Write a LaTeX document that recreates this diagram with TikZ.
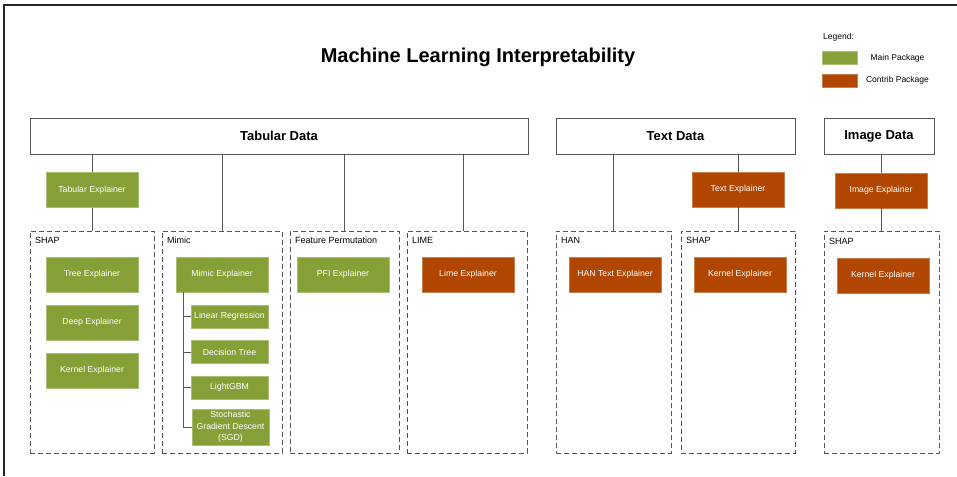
\documentclass[tikz,border=0pt]{standalone}
\usepackage{fontspec}
\setmainfont{Liberation Sans}
\definecolor{mgreen}{RGB}{134,160,56}
\definecolor{mred}{RGB}{176,70,0}
\definecolor{lgray}{RGB}{85,85,85}
\begin{document}
\begin{tikzpicture}[x=1pt,y=-1pt,
  hdr/.style={draw=lgray, line width=0.8pt, fill=white, inner sep=0pt, font=\fontsize{13}{15}\selectfont\bfseries},
  gbox/.style={fill=mgreen, draw=mgreen!70!white, line width=0.6pt, text=white, inner sep=0pt, align=center,
    minimum width=92pt, minimum height=35pt, font=\fontsize{8.7}{10.5}\selectfont},
  rbox/.style={gbox, fill=mred, draw=mred!70!white},
  sbox/.style={gbox, minimum width=77pt, minimum height=23pt},
  grp/.style={draw=lgray, line width=0.8pt, dash pattern=on 5pt off 3pt, inner sep=0pt, minimum height=222pt},
  glabel/.style={anchor=base west, inner sep=0pt, font=\fontsize{9}{11}\selectfont},
  conn/.style={draw=lgray, line width=0.8pt}]
\useasboundingbox (0,0) rectangle (957,476);
% frame
\draw[line width=1.2pt, draw=black!85] (4,476) -- (4,5) -- (957,5);
% title
\node[anchor=base, inner sep=0pt, font=\fontsize{20}{24}\selectfont\bfseries] (title) at (478,63) {Machine Learning Interpretability};
% legend
\node[glabel, font=\fontsize{8.5}{10}\selectfont] (leg) at (823,40) {Legend:};
\node[fill=mgreen, draw=mgreen!70!white, minimum width=35pt, minimum height=13pt, inner sep=0pt] (lg) at (839.5,58) {};
\node[fill=mred, draw=mred!70!white, minimum width=35pt, minimum height=13pt, inner sep=0pt] (lr) at (839.5,80.5) {};
\node[inner sep=0pt, font=\fontsize{8.5}{10}\selectfont] (lgt) at (897.5,58) {Main Package};
\node[inner sep=0pt, font=\fontsize{8.5}{10}\selectfont] (lrt) at (897.5,80.5) {Contrib Package};
% headers
\node[hdr, minimum width=498pt, minimum height=36pt] (tab) at (279,136) {Tabular Data};
\node[hdr, minimum width=239pt, minimum height=36pt] (txt) at (675.5,136) {Text Data};
\node[hdr, minimum width=110pt, minimum height=36pt] (img) at (879,136) {Image Data};
% group boxes
\node[grp, minimum width=124pt] (g1) at (92,342) {};
\node[grp, minimum width=120pt] (g2) at (222,342) {};
\node[grp, minimum width=109pt] (g3) at (344.5,342) {};
\node[grp, minimum width=120pt] (g4) at (467,342) {};
\node[grp, minimum width=115pt] (g5) at (613.5,342) {};
\node[grp, minimum width=114pt] (g6) at (738,342) {};
\node[grp, minimum width=115pt] (g7) at (881.5,342) {};
\node[glabel] (l1) at (35,243) {SHAP};
\node[glabel] (l2) at (167,243) {Mimic};
\node[glabel] (l3) at (295,243) {Feature Permutation};
\node[glabel] (l4) at (412,243) {LIME};
\node[glabel] (l5) at (561,243) {HAN};
\node[glabel] (l6) at (686,243) {SHAP};
\node[glabel] (l7) at (829,244) {SHAP};
% explainers
\node[gbox] (tabexp) at (92,190) {Tabular Explainer};
\node[rbox] (textexp) at (738,189.5) {Text Explainer};
\node[rbox] (imgexp) at (881,190.5) {Image Explainer};
\node[gbox] (tree) at (92,274.5) {Tree Explainer};
\node[gbox] (deep) at (92,322.5) {Deep Explainer};
\node[gbox] (kern1) at (92,370.5) {Kernel Explainer};
\node[gbox] (mimexp) at (222,274.5) {Mimic Explainer};
\node[sbox] (lin) at (229.5,316.5) {Linear Regression};
\node[sbox] (dt) at (229.5,352) {Decision Tree};
\node[sbox] (lgbm) at (229.5,387.5) {LightGBM};
\node[sbox, minimum height=36pt, font=\fontsize{8.7}{11.5}\selectfont] (sgd) at (230.5,427) {Stochastic\\Gradient Descent\\(SGD)};
\node[gbox] (pfi) at (343,274.5) {PFI Explainer};
\node[rbox] (limeexp) at (468,274.5) {Lime Explainer};
\node[rbox] (hanexp) at (615,274.5) {HAN Text Explainer};
\node[rbox] (kern2) at (740,274.5) {Kernel Explainer};
\node[rbox] (kern3) at (883,275.5) {Kernel Explainer};
% connectors
\coordinate (limex) at (463,0);
\coordinate (mt) at (183,0);
\draw[conn] (tab.south -| tabexp) -- (tabexp.north);
\draw[conn] (tabexp.south) -- (g1.north -| tabexp);
\draw[conn] (tab.south -| g2) -- (g2.north);
\draw[conn] (tab.south -| g3) -- (g3.north);
\draw[conn] (tab.south -| limex) -- (g4.north -| limex);
\draw[conn] (txt.south -| g5) -- (g5.north);
\draw[conn] (txt.south -| textexp) -- (textexp.north);
\draw[conn] (textexp.south) -- (g6.north -| textexp);
\draw[conn] (img.south -| imgexp) -- (imgexp.north);
\draw[conn] (imgexp.south) -- (g7.north -| imgexp);
\draw[conn] (mimexp.south -| mt) -- (sgd.west -| mt) -- (sgd.west);
\draw[conn] (lin.west -| mt) -- (lin.west);
\draw[conn] (dt.west -| mt) -- (dt.west);
\draw[conn] (lgbm.west -| mt) -- (lgbm.west);
\end{tikzpicture}
\end{document}
